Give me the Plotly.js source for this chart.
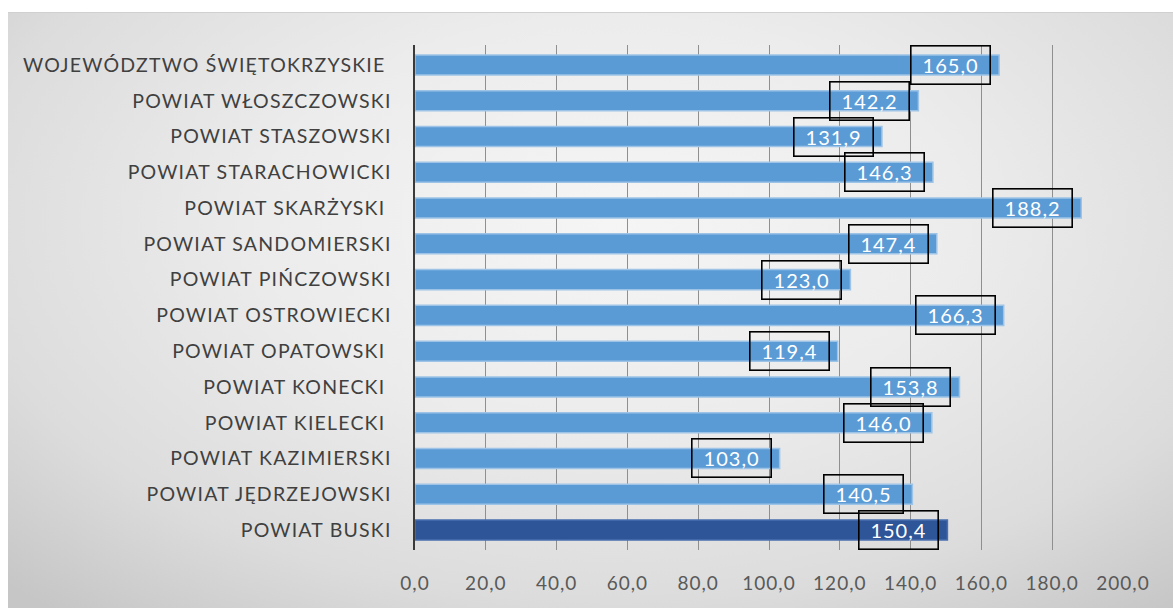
<!DOCTYPE html>
<html>
<head>
<meta charset="utf-8">
<script src="https://cdn.plot.ly/plotly-3.0.1.min.js"></script>
<style>
  html, body { margin: 0; padding: 0; background: #ffffff; }
  #wrap { position: relative; width: 1173px; height: 608px; overflow: hidden; }
  #bg { position: absolute; left: 8px; top: 12px; right: 0; bottom: 0;
        background: radial-gradient(ellipse 75% 85% at 52% 35%, #f5f5f5 0%, #ececec 40%, #dcdcdc 75%, #c6c6c6 100%);
        border-top: 1px solid #d0d0d0; }
  #chart { position: absolute; left: 0; top: 0; width: 1173px; height: 608px; }
  #chart .ytick text { letter-spacing: 1.2px; }
  #chart .xtick text { letter-spacing: 1px; }
  #chart .annotation-text { letter-spacing: 1px; }
</style>
</head>
<body>
<div id="wrap">
  <div id="bg"></div>
  <div id="chart"></div>
</div>
<script>
// categories listed bottom-to-top
var categories = [
  "POWIAT BUSKI",
  "POWIAT JĘDRZEJOWSKI",
  "POWIAT KAZIMIERSKI",
  "POWIAT KIELECKI\u00A0",
  "POWIAT KONECKI\u00A0",
  "POWIAT OPATOWSKI\u00A0",
  "POWIAT OSTROWIECKI",
  "POWIAT PIŃCZOWSKI",
  "POWIAT SANDOMIERSKI",
  "POWIAT SKARŻYSKI\u00A0",
  "POWIAT STARACHOWICKI",
  "POWIAT STASZOWSKI",
  "POWIAT WŁOSZCZOWSKI",
  "WOJEWÓDZTWO ŚWIĘTOKRZYSKIE\u00A0"
];
var values = [150.4, 140.5, 103.0, 146.0, 153.8, 119.4, 166.3, 123.0, 147.4, 188.2, 146.3, 131.9, 142.2, 165.0];
var highlighted = ["POWIAT BUSKI"];
var xTickValues = [0, 20, 40, 60, 80, 100, 120, 140, 160, 180, 200];

var FONT = "Lato, 'Open Sans', sans-serif";

function fmt(v) { return v.toFixed(1).replace('.', ','); }

var colors = categories.map(function (c) { return highlighted.indexOf(c) >= 0 ? '#2e5597' : '#5b9bd5'; });
var lineColors = categories.map(function (c) { return highlighted.indexOf(c) >= 0 ? '#4a6fb0' : '#9dc3e6'; });

var trace = {
  type: 'bar',
  orientation: 'h',
  y: categories,
  x: values,
  marker: { color: colors, line: { color: lineColors, width: 1.5 } },
  hoverinfo: 'none'
};

var annotations = categories.map(function (c, i) {
  return {
    x: values[i], y: c, xref: 'x', yref: 'y',
    xanchor: 'right', yanchor: 'middle', xshift: -8,
    text: fmt(values[i]), showarrow: false,
    font: { family: FONT, size: 20, color: '#ffffff' },
    width: 78, height: 37, borderpad: 0,
    bordercolor: '#000000', borderwidth: 1.6, bgcolor: 'rgba(0,0,0,0)'
  };
});

var layout = {
  width: 1173, height: 608,
  paper_bgcolor: 'rgba(0,0,0,0)',
  plot_bgcolor: 'rgba(0,0,0,0)',
  margin: { l: 415, r: 50, t: 45, b: 58 },
  bargap: 0.44,
  showlegend: false,
  xaxis: {
    range: [0, 200],
    tickvals: xTickValues,
    ticktext: xTickValues.map(fmt),
    showgrid: true, gridcolor: '#8f8f8f', gridwidth: 1,
    zeroline: false, showline: false,
    ticks: '', ticklabelstandoff: 20,
    tickfont: { family: FONT, size: 19, color: '#595959' },
    fixedrange: true
  },
  yaxis: {
    type: 'category',
    showgrid: false, zeroline: false,
    showline: true, linecolor: '#3a3a3a', linewidth: 2.5,
    ticks: '', ticklabelstandoff: 17,
    tickfont: { family: FONT, size: 19.5, color: '#404040' },
    fixedrange: true
  },
  annotations: annotations
};

Plotly.newPlot('chart', [trace], layout, { displayModeBar: false, staticPlot: true });
</script>
</body>
</html>
